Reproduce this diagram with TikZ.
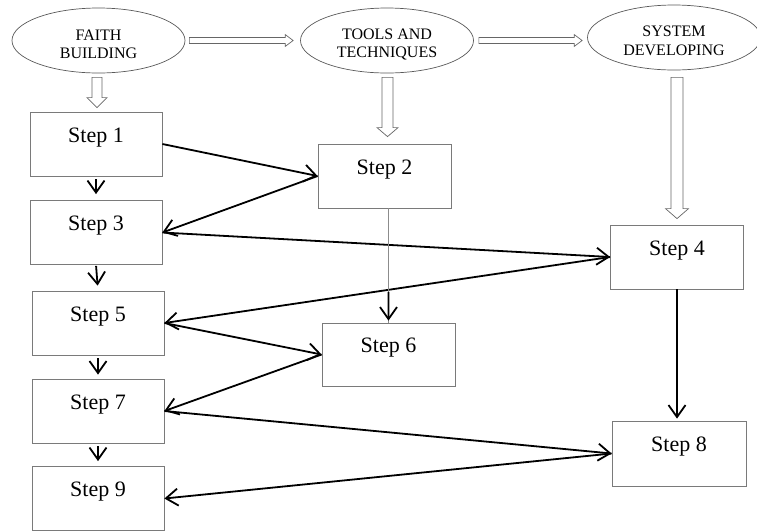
\documentclass[tikz,border=0pt]{standalone}
\usepackage{fontspec}
\setmainfont{Liberation Serif}
\usetikzlibrary{arrows.meta,calc,shapes.geometric}
\begin{document}
\begin{tikzpicture}[x=1pt,y=-1pt,
  stepbox/.style={draw=black!52, line width=0.8pt, minimum width=132pt, minimum height=64pt,
    inner sep=0pt, text height=15pt, text depth=19pt, font=\fontsize{22pt}{24pt}\selectfont},
  oval/.style={ellipse, draw=black!65, line width=0.7pt, minimum width=173pt, minimum height=65pt,
    inner sep=0pt},
  ovaltext/.style={anchor=north, inner sep=0pt, align=center, font=\fontsize{16pt}{18.3pt}\selectfont},
  hollow/.style={draw=black!60, line width=0.7pt, fill=white, line join=miter},
  conn/.style={line width=1.8pt, -{Straight Barb[length=12pt,width=17pt]}},
  thinconn/.style={draw=black!45, line width=0.8pt}
]
\useasboundingbox (0,0) rectangle (757,531);

% top ellipses
\node[oval] (fb) at (98.5,40.5) {};
\node[ovaltext] (fbt) at (98.5,29.5) {FAITH\\BUILDING};
\node[oval] (tt) at (387,40.5) {};
\node[ovaltext] (ttt) at (387,28.5) {TOOLS AND\\TECHNIQUES};
\node[oval] (sd) at (674,37.5) {};
\node[ovaltext] (sdt) at (674,26) {SYSTEM\\DEVELOPING};

% step boxes
\node[stepbox] (s1) at (96,144) {Step 1};
\node[stepbox] (s3) at (96,232.5) {Step 3};
\node[stepbox] (s5) at (98,323) {Step 5};
\node[stepbox] (s7) at (98,411) {Step 7};
\node[stepbox] (s9) at (98,498.5) {Step 9};
\node[stepbox, minimum width=133pt] (s2) at (384.5,176) {Step 2};
\node[stepbox, minimum width=133pt, minimum height=63pt] (s6) at (388.5,354.5) {Step 6};
\node[stepbox, minimum width=133pt] (s4) at (677,257) {Step 4};
\node[stepbox, minimum width=134pt, minimum height=65pt] (s8) at (679,453.5) {Step 8};

% hollow block arrows (horizontal)
\draw[hollow] let \p1=($(fb.east)+(4pt,0)$), \p2=($(tt.west)+(-7pt,0)$) in
  (\x1,\y1+3pt) -- (\x2-8pt,\y1+3pt) -- (\x2-8pt,\y1+6pt) -- (\x2,\y1)
  -- (\x2-8pt,\y1-6pt) -- (\x2-8pt,\y1-3pt) -- (\x1,\y1-3pt) -- cycle;
\draw[hollow] let \p1=($(tt.east)+(5pt,0)$), \p2=($(sd.west)+(-5pt,0)$) in
  (\x1,\y1+3pt) -- (\x2-8pt,\y1+3pt) -- (\x2-8pt,\y1+6pt) -- (\x2,\y1)
  -- (\x2-8pt,\y1-6pt) -- (\x2-8pt,\y1-3pt) -- (\x1,\y1-3pt) -- cycle;

% hollow block arrows (vertical)
\draw[hollow] let \p1=($(fb.south)+(-1.5pt,-4pt)$), \p2=($(s1.north)+(0,4pt)$) in
  (\x1-5pt,\y1) -- (\x1-5pt,\y2+10pt) -- (\x1-10pt,\y2+10pt) -- (\x1,\y2)
  -- (\x1+10pt,\y2+10pt) -- (\x1+5pt,\y2+10pt) -- (\x1+5pt,\y1) -- cycle;
\draw[hollow] let \p1=($(tt.south)+(0.5pt,-4pt)$), \p2=($(s2.north)+(0,7pt)$) in
  (\x1-5.5pt,\y1) -- (\x1-5.5pt,\y2+9pt) -- (\x1-10.5pt,\y2+9pt) -- (\x1,\y2)
  -- (\x1+10.5pt,\y2+9pt) -- (\x1+5.5pt,\y2+9pt) -- (\x1+5.5pt,\y1) -- cycle;
\draw[hollow] let \p1=($(sd.south)+(0,-7pt)$), \p2=($(s4.north)+(0,6pt)$) in
  (\x2-6pt,\y1) -- (\x2-6pt,\y2+10pt) -- (\x2-11.5pt,\y2+10pt) -- (\x2,\y2)
  -- (\x2+11.5pt,\y2+10pt) -- (\x2+6pt,\y2+10pt) -- (\x2+6pt,\y1) -- cycle;

% left column short arrows
\draw[conn, shorten <=3pt, shorten >=6pt] (s1.south) -- (s3.north);
\draw[conn, shorten <=1pt, shorten >=5pt] (s3.south) -- (s5.north);
\draw[conn, shorten <=3pt, shorten >=4pt] (s5.south) -- (s7.north);
\draw[conn, shorten <=3pt, shorten >=5pt] (s7.south) -- (s9.north);

% zig-zag connectors
\draw[conn] (s1.east) -- (s2.west);
\draw[conn] (s2.west) -- (s3.east);
\draw[conn] (s3.east) -- (s4.west);
\draw[conn] (s4.west) -- (s5.east);
\draw[conn] (s5.east) -- (s6.west);
\draw[conn] (s6.west) -- (s7.east);
\draw[conn] (s7.east) -- (s8.west);
\draw[conn] (s8.west) -- (s9.east);

% step 4 to step 8
\draw[conn, shorten >=2pt] (s4.south) -- (s4.south |- s8.north);

% step 2 to step 6
\draw[thinconn] (s6.north |- s2.south) -- (s6.north);
\coordinate (b26) at ($(s6.north |- s2.south)!0.73!(s6.north)$);
\draw[conn, shorten >=2pt] (b26) -- (s6.north);
\end{tikzpicture}
\end{document}
